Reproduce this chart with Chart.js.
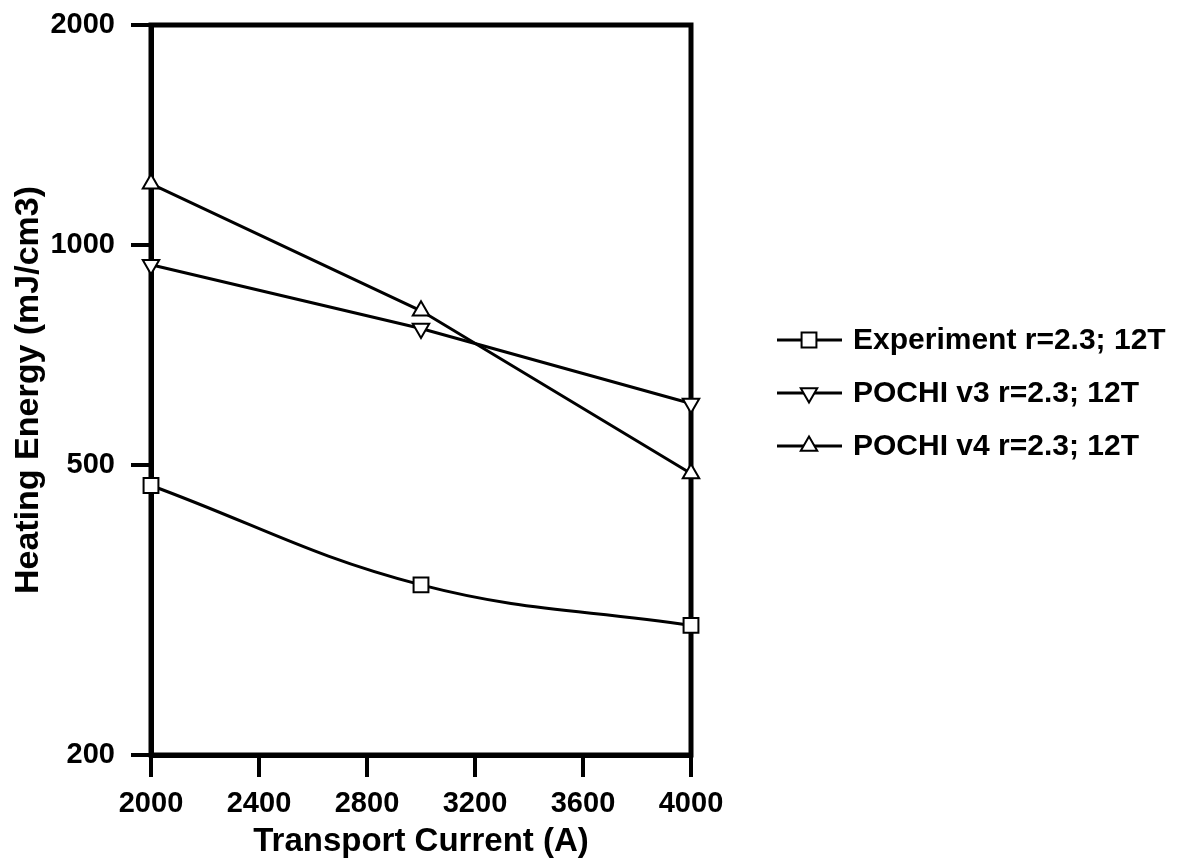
<!DOCTYPE html>
<html><head><meta charset="utf-8">
<script src="https://cdn.jsdelivr.net/npm/chart.js@4/dist/chart.umd.min.js"></script>
<style>html,body{margin:0;background:#fff}#wrap{width:1189px;height:862px}</style>
</head><body><div id="wrap"><canvas id="c"></canvas></div>
<script>
const currents = [2000, 3000, 4000];
const experiment = [468, 342, 301];
const pochiV3 = [939, 768, 606];
const pochiV4 = [1212, 812, 486];
const xTicks = [2000, 2400, 2800, 3200, 3600, 4000];
const yTicks = [200, 500, 1000, 2000];
const seriesNames = ['Experiment r=2.3; 12T', 'POCHI v3 r=2.3; 12T', 'POCHI v4 r=2.3; 12T'];

const FONT = '"Liberation Sans", Arial, sans-serif';
const pts = arr => currents.map((x,i)=>({x, y:arr[i]}));

function mk(label, arr, style, rot, tension, radius){
  return {label, data:pts(arr), borderColor:'#000', borderWidth:3, tension,
    pointStyle:style, rotation:rot, pointRadius:radius, pointBackgroundColor:'#fff',
    pointBorderColor:'#000', pointBorderWidth:2, clip:false};
}

function drawMarker(ctx, style, rot, x, y, r){
  ctx.beginPath();
  if(style==='rect'){ const s=Math.SQRT1_2*r; ctx.rect(x-s,y-s,2*s,2*s); }
  else {
    let a = rot*Math.PI/180;
    ctx.moveTo(x+Math.sin(a)*r, y-Math.cos(a)*r);
    a += 2*Math.PI/3; ctx.lineTo(x+Math.sin(a)*r, y-Math.cos(a)*r);
    a += 2*Math.PI/3; ctx.lineTo(x+Math.sin(a)*r, y-Math.cos(a)*r);
    ctx.closePath();
  }
  ctx.fillStyle='#fff'; ctx.fill();
  ctx.lineWidth=2; ctx.strokeStyle='#000'; ctx.stroke();
}

const framePlugin = {
  id:'frame',
  beforeDatasetsDraw(chart){
    const {ctx, chartArea:a} = chart;
    ctx.save(); ctx.strokeStyle='#000'; ctx.lineWidth=5;
    ctx.strokeRect(a.left, a.top, a.right-a.left, a.bottom-a.top);
    ctx.restore();
  },
  afterDraw(chart){
    const ctx = chart.ctx;
    ctx.save();
    chart.data.datasets.forEach((ds,i)=>{
      const y = 340 + i*53;
      ctx.strokeStyle='#000'; ctx.lineWidth=3;
      ctx.beginPath(); ctx.moveTo(777,y); ctx.lineTo(842,y); ctx.stroke();
      drawMarker(ctx, ds.pointStyle, ds.rotation, 809, y, ds.pointRadius);
      ctx.fillStyle='#000'; ctx.font='bold 30px '+FONT; ctx.textBaseline='middle';
      ctx.fillText(ds.label, 853, y+1);
    });
    ctx.restore();
  }
};

new Chart(document.getElementById('c'), {
  type:'line',
  data:{datasets:[
    mk(seriesNames[0], experiment, 'rect', 0, 0.4, 10.5),
    mk(seriesNames[1], pochiV3, 'triangle', 180, 0, 9.5),
    mk(seriesNames[2], pochiV4, 'triangle', 0, 0, 9.5)
  ]},
  options:{
    responsive:true, maintainAspectRatio:false, animation:false,
    layout:{padding:{left:0, right:498, top:25, bottom:0}},
    plugins:{legend:{display:false}, tooltip:{enabled:false}},
    scales:{
      x:{type:'linear', min:2000, max:4000,
        afterBuildTicks:s=>{ s.ticks = xTicks.map(v=>({value:v})); },
        afterFit:s=>{ s.height=107; s.paddingLeft=0; s.paddingRight=0; },
        grid:{drawOnChartArea:false, tickLength:22, color:'#000', lineWidth:4},
        border:{display:true, color:'#000', width:5},
        ticks:{color:'#000', padding:10, maxRotation:0, font:{family:FONT, size:29, weight:'bold'}, callback:v=>String(v)},
        title:{display:true, text:'Transport Current (A)', color:'#000', padding:{top:0,bottom:0}, font:{family:FONT, size:33, weight:'bold'}}
      },
      y:{type:'logarithmic', min:200, max:2000,
        afterBuildTicks:s=>{ s.ticks = yTicks.map(v=>({value:v})); },
        afterFit:s=>{ s.width=151; s.paddingTop=0; s.paddingBottom=0; },
        grid:{drawOnChartArea:false, tickLength:20, color:'#000', lineWidth:4},
        border:{display:true, color:'#000', width:5},
        ticks:{color:'#000', padding:16, font:{family:FONT, size:29, weight:'bold'}, callback:v=>String(v)},
        title:{display:true, text:'Heating Energy (mJ/cm3)', color:'#000', padding:{top:8,bottom:8}, font:{family:FONT, size:34, weight:'bold'}}
      }
    }
  },
  plugins:[framePlugin]
});
</script></body></html>
